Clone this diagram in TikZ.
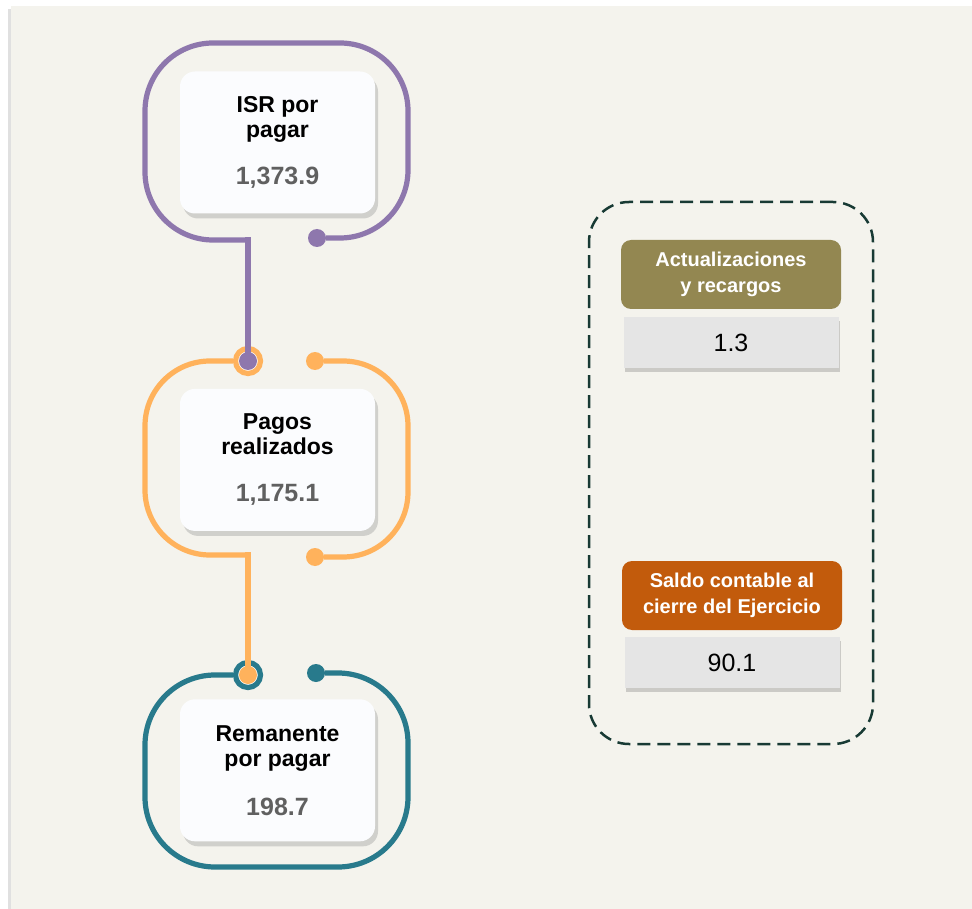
\documentclass[tikz,border=0pt]{standalone}
\usepackage{fontspec}
\setmainfont{Liberation Sans}
\usetikzlibrary{positioning, shadows}

\definecolor{bgbeige}{RGB}{244,243,237}
\definecolor{cardwhite}{RGB}{251,252,254}
\definecolor{valgray}{RGB}{96,96,96}
\definecolor{boxgray}{RGB}{229,229,229}
\definecolor{isrpurple}{RGB}{142,119,173}
\definecolor{pagoorange}{RGB}{255,178,92}
\definecolor{remteal}{RGB}{40,122,140}
\definecolor{actolive}{RGB}{147,135,81}
\definecolor{saldorust}{RGB}{194,91,12}
\definecolor{framegreen}{RGB}{24,58,52}

\newcommand{\cardval}[1]{{\color{valgray}\fontsize{25}{25}\selectfont #1}}

\begin{document}
\begin{tikzpicture}[
    x=1pt, y=1pt,
    card/.style={rectangle, rounded corners=15pt, minimum width=195pt, minimum height=142pt, fill=cardwhite, align=center, font=\bfseries\fontsize{23}{25}\selectfont, drop shadow={shadow xshift=3pt, shadow yshift=-5pt, opacity=0.3}},
    head/.style={rectangle, rounded corners=10pt, minimum width=220pt, minimum height=69pt, fill=#1, text=white, align=center, font=\bfseries\fontsize{20}{26}\selectfont},
    valbox/.style={rectangle, minimum width=215pt, minimum height=51pt, fill=boxgray, font=\fontsize{25}{25}\selectfont, drop shadow={shadow xshift=1pt, shadow yshift=-4pt, opacity=0.35}},
    wire/.style={line width=5.2pt, draw=#1},
    ring/.style={circle, draw=#1, line width=5.2pt, fill=white, minimum size=25pt, inner sep=0pt},
    enddot/.style={circle, fill=#1, minimum size=18pt, inner sep=0pt}
]
\useasboundingbox (0,0) rectangle (972,-909);

% Background
\fill[black!12] (8,-9) rectangle (11,-909);
\fill[bgbeige] (11,-6) rectangle (972,-909);

% Nodes
\node (isr) [card] at (277.5,-142.5) {ISR por\\pagar\\[22pt]\cardval{1,373.9}};
\node (pagos) [card, below=175pt of isr] {Pagos\\realizados\\[22pt]\cardval{1,175.1}};
\node (rem) [card, below=168pt of pagos] {Remanente\\por pagar\\[24pt]\cardval{198.7}};

\node (frame) [rectangle, minimum width=284pt, minimum height=542pt, draw=framegreen, line width=2.5pt, dash pattern=on 13pt off 7pt, rounded corners=40pt] at (731,-473) {};
\node (act) [head=actolive] at (731,-274.5) {Actualizaciones\\y recargos};
\node (actval) [valbox, below=8pt of act] {1.3};
\node (saldo) [head=saldorust] at (732,-595.5) {Saldo contable al\\cierre del Ejercicio};
\node (saldoval) [valbox, below=7pt of saldo] {90.1};

% Rings and end points
\coordinate (bendP) at (248,-240);
\coordinate (bendO) at (248,-555);
\node (ringA) [ring=pagoorange] at (248,-361) {};
\node (ringB) [ring=remteal] at (248,-675) {};
\node (endP) [enddot=isrpurple] at (317,-238) {};
\node (endO1) [enddot=pagoorange] at (315,-361) {};
\node (endO2) [enddot=pagoorange] at (315,-557) {};
\node (endT) [enddot=remteal] at (316,-673) {};

% Loops
\draw [wire=isrpurple, rounded corners=68pt] (bendP) -- (145,-240) -- (145,-43) -- (408,-43) -- (408,-238) -- (endP);
\draw [wire=pagoorange, rounded corners=65pt] (ringA.west) -- (145,-361) -- (145,-555) -- (bendO);
\draw [wire=pagoorange, rounded corners=65pt] (endO1) -- (408,-361) -- (408,-557) -- (endO2);
\draw [wire=remteal, rounded corners=70pt] (ringB.west) -- (145,-675) -- (145,-867) -- (408,-867) -- (408,-673) -- (endT);

% Connectors
\node (dotA) [enddot=isrpurple] at (ringA) {};
\node (dotB) [enddot=pagoorange] at (ringB) {};
\draw [wire=isrpurple, line cap=rect] (bendP) -- (dotA.center);
\draw [wire=pagoorange, line cap=rect] (bendO) -- (dotB.center);

\end{tikzpicture}
\end{document}
